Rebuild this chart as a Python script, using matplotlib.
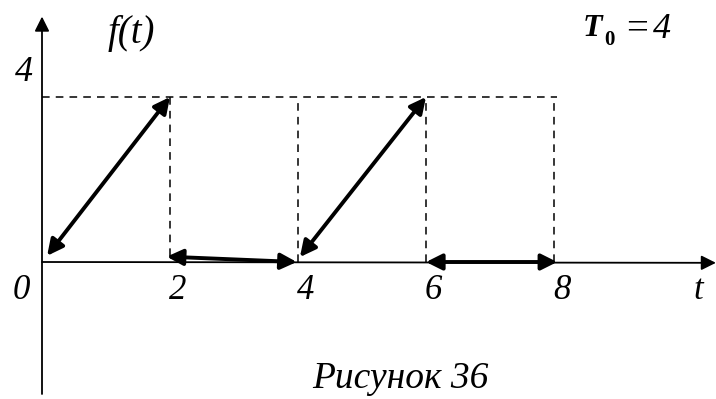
import matplotlib
matplotlib.use("Agg")
import matplotlib.pyplot as plt

# ---- data (t units, f units) ----
period_T0 = 4
peak_value = 4
ramp_segments = [((0.08, 0.15), (2.0, 4.0)), ((4.03, 0.12), (6.0, 4.0))]
flat_segments = [((1.95, 0.13), (3.98, 0.0)), ((6.0, 0.0), (8.05, 0.0))]
dashed_vert_t = [2, 4, 6, 8]
dashed_vert_bottom = [0.15, 0.0, 0.0, 0.0]
x_tick_values = [0, 2, 4, 6, 8]
x_tick_labels = ["0", "2", "4", "6", "8"]

SERIF = ["Liberation Serif", "DejaVu Serif"]

fig = plt.figure(figsize=(7.16, 3.99), dpi=100)
ax = fig.add_axes([0, 0, 1, 1])
ax.set_xlim(-42 / 64, (716 - 42) / 64)
ax.set_ylim((262 - 399) / 41.25, 262 / 41.25)
ax.axis("off")

# axes with arrows
ax.annotate("", xy=(0, 5.95), xytext=(0, -3.2),
            arrowprops=dict(arrowstyle="-|>", lw=1.3, color="black",
                            mutation_scale=22, shrinkA=0, shrinkB=0))
ax.annotate("", xy=(10.53, -0.02), xytext=(0, 0),
            arrowprops=dict(arrowstyle="-|>", lw=1.3, color="black",
                            mutation_scale=22, shrinkA=0, shrinkB=0))

# dashed guide lines
ax.plot([0, 8.05], [peak_value, peak_value], ls=(0, (5, 4)), lw=1.1, color="black")
for tv, b in zip(dashed_vert_t, dashed_vert_bottom):
    ax.plot([tv, tv], [b, peak_value], ls=(0, (5, 4)), lw=1.1, color="black")

# double-headed thick arrows
for (p0, p1) in ramp_segments + flat_segments:
    ax.annotate("", xy=p1, xytext=p0,
                arrowprops=dict(arrowstyle="<|-|>", lw=2.8, color="black",
                                mutation_scale=24, shrinkA=0, shrinkB=0))

# tick labels
for v, lab in zip(x_tick_values, x_tick_labels):
    dx = -0.33 if v == 0 else 0.12
    ax.text(v + dx, -0.7, lab, fontsize=25, style="italic", family=SERIF,
            ha="center", va="center")
ax.text(10.26, -0.7, "t", fontsize=25, style="italic", family=SERIF,
        ha="center", va="center")
ax.text(-0.28, 4.6, "4", fontsize=26, style="italic", family=SERIF,
        ha="center", va="center")
ax.text(1.4, 5.55, "f(t)", fontsize=28, style="italic", family=SERIF,
        ha="center", va="center")

# T0 = 4
ax.text(8.6, 5.67, "T", fontsize=23, fontweight="bold", style="italic",
        family=SERIF, ha="center", va="center")
ax.text(8.87, 5.38, "0", fontsize=15, fontweight="bold", family=SERIF,
        ha="center", va="center")
ax.text(9.12, 5.62, "=", fontsize=28, family=SERIF, ha="left", va="center")
ax.text(9.55, 5.64, str(period_T0), fontsize=26, style="italic", family=SERIF,
        ha="left", va="center")

# caption
ax.text(5.6, -2.82, "Рисунок 36", fontsize=27, style="italic", family=SERIF,
        ha="center", va="center")

fig.savefig("out.png", dpi=100)
